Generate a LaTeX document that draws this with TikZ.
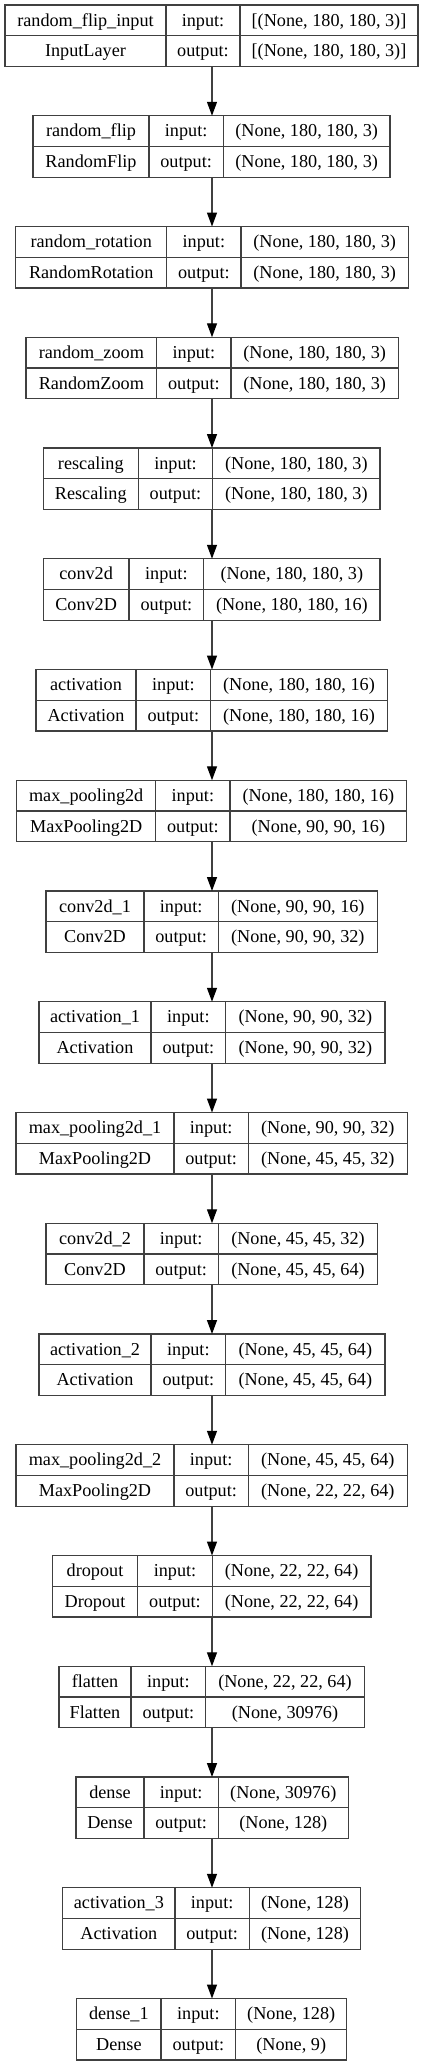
\documentclass[tikz,border=0pt]{standalone}
\usepackage{fontspec}
\setmainfont{Liberation Serif}
\usetikzlibrary{arrows.meta}
\definecolor{edge}{RGB}{64,64,64}
\tikzset{
  boxframe/.style={draw=edge, line width=1.3pt, inner sep=0pt, outer sep=0pt, minimum height=61.5pt, anchor=north west},
  sepline/.style={draw=edge, line width=1.3pt},
  lbl/.style={anchor=base, inner sep=0pt, text=black, font=\fontsize{18.2}{20}\selectfont},
  arr/.style={draw=edge, line width=1.3pt, -{Triangle[length=14pt,width=10pt,fill=black,color=black]}}
}
\newcommand\layer[9]{%
  \pgfmathsetmacro\lytop{5+110.75*(#1-1)}%
  \pgfmathsetmacro\lywid{#5-#2}%
  \node[boxframe, minimum width=\lywid pt] (L#1) at (#2,\lytop) {};
  \draw[sepline] (L#1.west) -- (L#1.east);
  \draw[sepline] (#3,\lytop) -- (#3,\lytop+61.5);
  \draw[sepline] (#4,\lytop) -- (#4,\lytop+61.5);
  \node[lbl] (L#1name) at ({(#2+#3)/2},\lytop+21.2) {#6};
  \node[lbl] (L#1class) at ({(#2+#3)/2},\lytop+51.9) {#7};
  \node[lbl] (L#1inl) at ({(#3+#4)/2},\lytop+21.2) {input:};
  \node[lbl] (L#1outl) at ({(#3+#4)/2},\lytop+51.9) {output:};
  \node[lbl] (L#1in) at ({(#4+#5)/2},\lytop+21.2) {#8};
  \node[lbl] (L#1out) at ({(#4+#5)/2},\lytop+51.9) {#9};
}
\begin{document}
\begin{tikzpicture}[x=1pt,y=-1pt]
\useasboundingbox[fill=white] (0,0) rectangle (424,2065);
\layer{1}{5}{166}{240}{418}{random\_flip\_input}{InputLayer}{[(None, 180, 180, 3)]}{[(None, 180, 180, 3)]}
\layer{2}{33}{149}{223.3}{390}{random\_flip}{RandomFlip}{(None, 180, 180, 3)}{(None, 180, 180, 3)}
\layer{3}{15.7}{166.7}{241}{408.3}{random\_rotation}{RandomRotation}{(None, 180, 180, 3)}{(None, 180, 180, 3)}
\layer{4}{26}{156.7}{231}{398.3}{random\_zoom}{RandomZoom}{(None, 180, 180, 3)}{(None, 180, 180, 3)}
\layer{5}{43.3}{138.3}{212.7}{380}{rescaling}{Rescaling}{(None, 180, 180, 3)}{(None, 180, 180, 3)}
\layer{6}{43.3}{129}{203.7}{380}{conv2d}{Conv2D}{(None, 180, 180, 3)}{(None, 180, 180, 16)}
\layer{7}{36}{136}{210.7}{387.3}{activation}{Activation}{(None, 180, 180, 16)}{(None, 180, 180, 16)}
\layer{8}{16.7}{155.7}{230}{406.7}{max\_pooling2d}{MaxPooling2D}{(None, 180, 180, 16)}{(None, 90, 90, 16)}
\layer{9}{46}{144}{218.3}{377.3}{conv2d\_1}{Conv2D}{(None, 90, 90, 16)}{(None, 90, 90, 32)}
\layer{10}{39}{151}{225.7}{385}{activation\_1}{Activation}{(None, 90, 90, 32)}{(None, 90, 90, 32)}
\layer{11}{16}{174}{248.3}{407.3}{max\_pooling2d\_1}{MaxPooling2D}{(None, 90, 90, 32)}{(None, 45, 45, 32)}
\layer{12}{46}{144}{218.3}{377.7}{conv2d\_2}{Conv2D}{(None, 45, 45, 32)}{(None, 45, 45, 64)}
\layer{13}{39}{151}{225.7}{385}{activation\_2}{Activation}{(None, 45, 45, 64)}{(None, 45, 45, 64)}
\layer{14}{16}{174}{248.3}{407.3}{max\_pooling2d\_2}{MaxPooling2D}{(None, 45, 45, 64)}{(None, 22, 22, 64)}
\layer{15}{52.3}{137.7}{212.3}{371}{dropout}{Dropout}{(None, 22, 22, 64)}{(None, 22, 22, 64)}
\layer{16}{59}{131}{205.7}{364.3}{flatten}{Flatten}{(None, 22, 22, 64)}{(None, 30976)}
\layer{17}{76}{144}{218.3}{348.3}{dense}{Dense}{(None, 30976)}{(None, 128)}
\layer{18}{62.7}{175}{249.3}{360.7}{activation\_3}{Activation}{(None, 128)}{(None, 128)}
\layer{19}{76.7}{161}{235.7}{346.7}{dense\_1}{Dense}{(None, 128)}{(None, 9)}
\foreach \a/\b in {1/2,2/3,3/4,4/5,5/6,6/7,7/8,8/9,9/10,10/11,11/12,12/13,13/14,14/15,15/16,16/17,17/18,18/19}{
  \draw[arr] (212,0 |- L\a.south) -- (212,0 |- L\b.north);
}
\end{tikzpicture}
\end{document}
